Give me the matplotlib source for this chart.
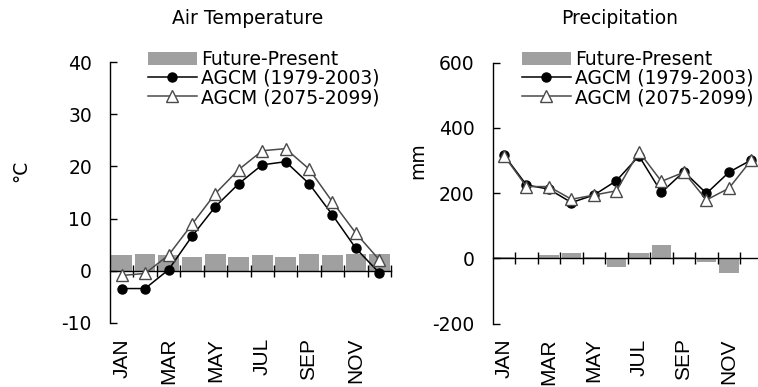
import matplotlib
matplotlib.use("Agg")
import matplotlib.pyplot as plt
import numpy as np
from matplotlib.patches import Patch
from matplotlib.lines import Line2D

plt.rcParams['font.family'] = ['DejaVu Sans']
plt.rcParams['axes.unicode_minus'] = False

months = ["JAN", "FEB", "MAR", "APR", "MAY", "JUN", "JUL", "AUG", "SEP", "OCT", "NOV", "DEC"]

temp_present = [-3.4, -3.4, 0.2, 6.6, 12.3, 16.7, 20.3, 20.9, 16.7, 10.7, 4.3, -0.4]
temp_future = [-0.9, -0.5, 3.0, 8.9, 14.8, 19.4, 23.0, 23.4, 19.5, 13.2, 7.2, 2.1]
temp_diff = [3.0, 3.2, 3.0, 2.7, 3.2, 2.7, 3.0, 2.7, 3.2, 3.0, 3.2, 3.2]

precip_present = [317, 225, 212, 171, 194, 238, 314, 202, 266, 199, 264, 302]
precip_future = [315, 220, 220, 181, 194, 207, 327, 236, 264, 179, 215, 302]
precip_diff = [3, 0, 10, 17, 4, -26, 17, 41, 4, -10, -46, 0]

W, H = 758, 387
fig = plt.figure(figsize=(W / 100, H / 100), dpi=100)

BAR_C = "#a0a0a0"
FUT_C = "#4a4a4a"
FS = 13.5
LEG_FS = 13.5


def px_axes(x0, y0, x1, y1):
    return fig.add_axes([x0 / W, 1 - y1 / H, (x1 - x0) / W, (y1 - y0) / H])


def setup(ax, pres, fut, diff, ylim, yticks):
    x = np.arange(len(months))
    ax.bar(x, diff, width=0.88, color=BAR_C, zorder=1)
    ax.plot(x, pres, color="black", lw=1.1, marker="o", ms=6.5,
            mfc="black", mec="black", zorder=4)
    ax.plot(x, fut, color=FUT_C, lw=1.1, marker="^", ms=8,
            mfc="white", mec=FUT_C, mew=1.0, zorder=5)
    ax.set_xlim(-0.5, len(months) - 0.5)
    ax.set_ylim(*ylim)
    ax.set_yticks(yticks)
    ax.spines["top"].set_visible(False)
    ax.spines["right"].set_visible(False)
    ax.spines["bottom"].set_position(("data", 0))
    ax.spines["bottom"].set_zorder(3)
    for s in ("left", "bottom"):
        ax.spines[s].set_linewidth(1.0)
    ax.set_xticks(np.arange(0.5, len(months), 1.0))
    ax.set_xticklabels([])
    ax.tick_params(axis="x", direction="inout", length=9, width=1.0)
    ax.tick_params(axis="y", direction="in", length=5, width=1.0,
                   labelsize=FS, pad=13)
    for i in range(0, len(months), 2):
        ax.annotate(months[i], xy=(i, 0), xycoords=("data", "axes fraction"),
                    xytext=(0, -15), textcoords="offset pixels",
                    rotation=90, ha="center", va="top", fontsize=15,
                    family=["Liberation Sans", "DejaVu Sans"])
    handles = [Patch(facecolor=BAR_C, edgecolor="none"),
               Line2D([], [], color="black", lw=1.1, marker="o", ms=6.5),
               Line2D([], [], color=FUT_C, lw=1.1, marker="^", ms=8,
                      mfc="white", mec=FUT_C)]
    return handles


labels = ["Future-Present", "AGCM (1979-2003)", "AGCM (2075-2099)"]

ax1 = px_axes(110, 62, 391, 323)
h = setup(ax1, temp_present, temp_future, temp_diff, (-10, 40), np.arange(-10, 41, 10))
ax1.legend(h, labels, loc="upper left", bbox_to_anchor=(148 / W, 1 - 50 / H),
           bbox_transform=fig.transFigure, frameon=False, fontsize=LEG_FS,
           borderpad=0, borderaxespad=0, handlelength=2.6, handletextpad=0.25,
           labelspacing=0.0, numpoints=1)

ax2 = px_axes(492.7, 62.7, 762.7, 323.5)
h = setup(ax2, precip_present, precip_future, precip_diff, (-200, 600), np.arange(-200, 601, 200))
ax2.legend(h, labels, loc="upper left", bbox_to_anchor=(522 / W, 1 - 50 / H),
           bbox_transform=fig.transFigure, frameon=False, fontsize=LEG_FS,
           borderpad=0, borderaxespad=0, handlelength=2.6, handletextpad=0.25,
           labelspacing=0.0, numpoints=1)

fig.text(248 / W, 1 - 19 / H, "Air Temperature", ha="center", va="center", fontsize=FS)
fig.text(620 / W, 1 - 19 / H, "Precipitation", ha="center", va="center", fontsize=FS)
fig.text(21 / W, 1 - 171 / H, "°C", ha="center", va="center", rotation=90, fontsize=FS)
fig.text(417.5 / W, 1 - 161 / H, "mm", ha="center", va="center", rotation=90, fontsize=FS)

fig.savefig("out.png", dpi=100)
